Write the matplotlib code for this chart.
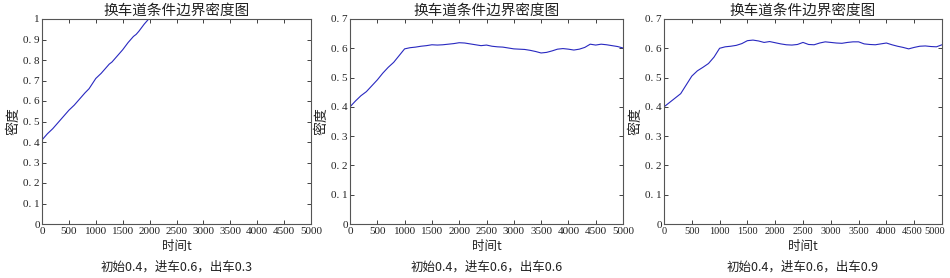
import matplotlib
matplotlib.use("Agg")
import matplotlib.pyplot as plt
import matplotlib.transforms as mtransforms
import numpy as np

plt.rcParams['font.family'] = ['Liberation Serif', 'Noto Sans CJK SC', 'DejaVu Sans']

title = "换车道条件边界密度图"
ylabel = "密度"
xlabel = "时间t"
captions = ["初始0.4，进车0.6，出车0.3", "初始0.4，进车0.6，出车0.6", "初始0.4，进车0.6，出车0.9"]

t1 = [0, 100, 200, 250, 300, 400, 500, 600, 700, 750, 800, 875, 900, 1000, 1100, 1200, 1250, 1300,
      1400, 1500, 1600, 1700, 1750, 1800, 1900, 2000, 2100]
d1 = [0.41, 0.44, 0.465, 0.48, 0.495, 0.525, 0.555, 0.58, 0.61, 0.625, 0.64, 0.66, 0.67, 0.71, 0.735,
      0.765, 0.78, 0.79, 0.82, 0.85, 0.885, 0.915, 0.925, 0.94, 0.975, 1.005, 1.035]

t2 = list(range(0, 5001, 100))
d2 = [0.400, 0.420, 0.438, 0.452, 0.472, 0.492, 0.515, 0.535, 0.552, 0.575, 0.598,
      0.602, 0.604, 0.607, 0.609, 0.612, 0.611, 0.612, 0.614, 0.616, 0.619,
      0.618, 0.615, 0.612, 0.609, 0.611, 0.607, 0.605, 0.604, 0.601, 0.598,
      0.597, 0.596, 0.593, 0.589, 0.584, 0.586, 0.591, 0.597, 0.599, 0.597,
      0.594, 0.597, 0.603, 0.614, 0.611, 0.614, 0.612, 0.609, 0.606, 0.601]

t3 = list(range(0, 5001, 100))
d3 = [0.400, 0.415, 0.430, 0.445, 0.475, 0.505, 0.523, 0.535, 0.548, 0.570, 0.600,
      0.605, 0.607, 0.610, 0.616, 0.626, 0.628, 0.625, 0.620, 0.623, 0.619,
      0.615, 0.612, 0.611, 0.613, 0.620, 0.613, 0.612, 0.618, 0.622, 0.620,
      0.618, 0.617, 0.620, 0.622, 0.622, 0.615, 0.613, 0.612, 0.615, 0.618,
      0.612, 0.607, 0.603, 0.598, 0.603, 0.607, 0.608, 0.606, 0.605, 0.612]

series = [(t1, d1), (t2, d2), (t3, d3)]
ylims = [1.0, 0.7, 0.7]
xticks = list(range(0, 5001, 500))

fig = plt.figure(figsize=(9.5, 2.78), dpi=100)
rects = [(42, 311), (350, 623), (664, 942)]
top_px, bot_px = 19, 224
W, H = 950, 278
cjk = ['Noto Sans CJK SC', 'DejaVu Sans']
for i, ((l, r), (t, d), ym) in enumerate(zip(rects, series, ylims)):
    ax = fig.add_axes([l / W, (H - bot_px) / H, (r - l) / W, (bot_px - top_px) / H])
    ax.plot(t, d, color='#2828c0', lw=0.8)
    ax.set_xlim(0, 5000)
    ax.set_ylim(0, ym)
    ax.set_xticks(xticks)
    ax.set_xticklabels([str(x) for x in xticks])
    yt = np.round(np.arange(0, ym + 1e-9, 0.1), 1)
    ax.set_yticks(yt)
    ax.set_yticklabels(["0" if v == 0 else ("1" if v == 1 else "0. %d" % round(v * 10)) for v in yt])
    ax.tick_params(direction='in', top=True, right=True, length=3, width=0.6,
                   labelsize=8, colors='#222222', pad=2)
    ax.tick_params(axis='y', pad=1.5)
    if i == 2:
        ax.tick_params(axis='x', labelsize=7.5)
        labs = ax.get_xticklabels()
        for lab, dx in ((labs[-2], -2), (labs[-1], -7)):
            lab.set_transform(lab.get_transform() + mtransforms.ScaledTranslation(dx / 100, 0, fig.dpi_scale_trans))
    for s in ax.spines.values():
        s.set_color('#555555')
        s.set_linewidth(0.8)
    ax.set_title(title, family=cjk, fontsize=10.5, pad=3, color='#222222')
    ax.set_xlabel(xlabel, family=cjk, fontsize=9, labelpad=3, color='#222222')
    ax.set_ylabel(ylabel, family=cjk, fontsize=10, labelpad=2, color='#222222')
    cx = (l + r) / 2 / W
    fig.text(cx, (H - 267) / H, captions[i], family=cjk, fontsize=9, ha='center', va='center', color='#222222')

fig.savefig("out.png", dpi=100)
